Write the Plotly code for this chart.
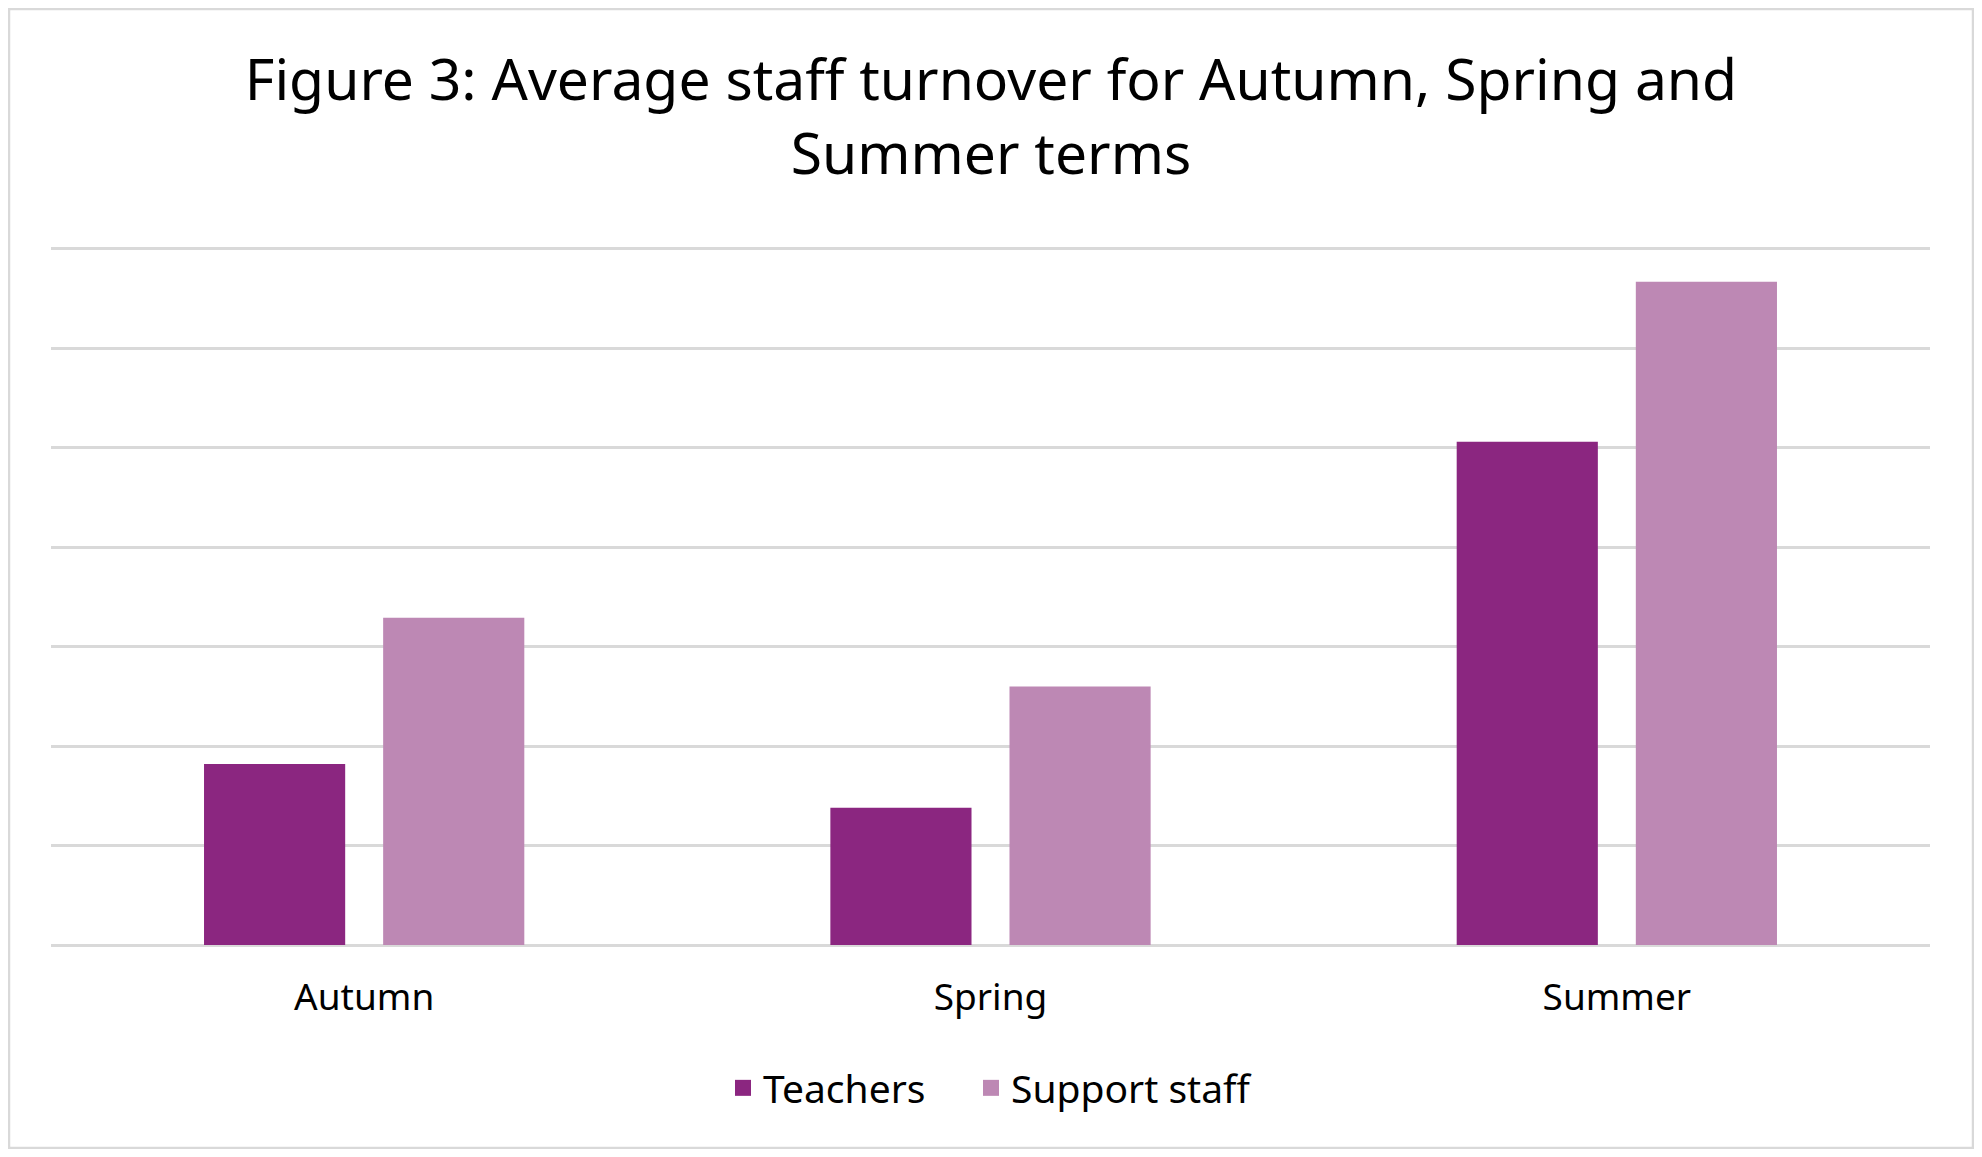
import plotly.graph_objects as go

# Terms on the x axis and average turnover per staff group
terms = ["Autumn", "Spring", "Summer"]
teachers = [1.82, 1.38, 5.06]
support_staff = [3.29, 2.60, 6.67]
series_names = ["Teachers", "Support staff"]

TEACHER_COLOUR = "#8B2680"
SUPPORT_COLOUR = "#BD88B4"
GRID = "#D9D9D9"
FONT = "Noto Sans"

# the page body adds an 8px margin, so the figure is a bit smaller than the window
W, H = 1966, 1141
L, R, T, B = 43, 44, 236, 204
plot_w = W - L - R
plot_h = H - T - B


def px_x(px):
    return (px - L) / plot_w


def px_y(py):
    return (H - B - py) / plot_h


fig = go.Figure()
fig.add_trace(go.Bar(x=terms, y=teachers, name=series_names[0],
                     marker=dict(color=TEACHER_COLOUR, line_width=0), showlegend=False))
fig.add_trace(go.Bar(x=terms, y=support_staff, name=series_names[1],
                     marker=dict(color=SUPPORT_COLOUR, line_width=0), showlegend=False))

# legend entries with bigger square swatches than bar icons allow;
# non-breaking spaces widen the gap between the two entries
legend_labels = [series_names[0] + "\u00a0" * 4, series_names[1]]
for label, colour in zip(legend_labels, [TEACHER_COLOUR, SUPPORT_COLOUR]):
    fig.add_trace(go.Scatter(x=[terms[0]], y=[None], mode="markers", name=label,
                             marker=dict(symbol="square", size=16, color=colour)))

# light grey frame around the whole chart
fig.add_shape(type="rect", xref="paper", yref="paper",
              x0=px_x(1), x1=px_x(1965), y0=px_y(1140), y1=px_y(1),
              line=dict(color=GRID, width=2.5), fillcolor="rgba(0,0,0,0)", layer="below")

fig.update_layout(
    width=W, height=H,
    margin=dict(l=L, r=R, t=T, b=B),
    paper_bgcolor="white", plot_bgcolor="white",
    font=dict(family=FONT, color="black", size=37),
    title=dict(text="Figure 3: Average staff turnover for Autumn, Spring and<br>Summer terms",
               x=0.5, xanchor="center", xref="container",
               y=1 - 92 / H, yanchor="middle", yref="container",
               font=dict(size=57, family=FONT, color="black")),
    barmode="group", bargap=0.428, bargroupgap=0.212,
    legend=dict(orientation="h", x=0.5, xanchor="center",
                y=px_y(1080), yanchor="middle",
                font=dict(size=39), itemsizing="trace", traceorder="normal"),
    xaxis=dict(categoryorder="array", categoryarray=terms, showgrid=False,
               ticks="outside", ticklen=20, tickcolor="rgba(0,0,0,0)",
               showline=False, zeroline=False),
    yaxis=dict(range=[0, 7.05], dtick=1, showticklabels=False, showgrid=True,
               gridcolor=GRID, gridwidth=2.5, zeroline=True, zerolinecolor=GRID,
               zerolinewidth=2.5, fixedrange=True),
)

fig.write_html("out.html")
